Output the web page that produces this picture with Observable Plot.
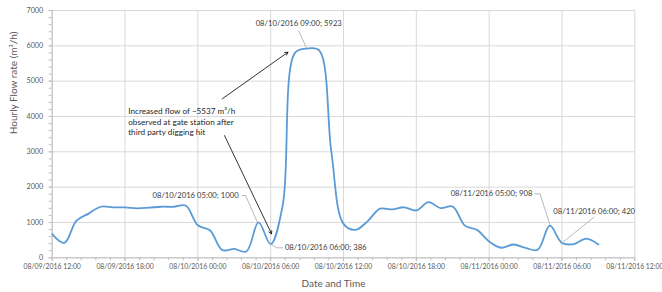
<!DOCTYPE html>
<html><head><meta charset="utf-8">
<script src="https://cdn.jsdelivr.net/npm/d3@7"></script>
<script src="https://cdn.jsdelivr.net/npm/@observablehq/plot@0.6"></script>
<style>
html,body{margin:0;padding:0;background:#fff;}
svg{display:block;}
</style></head><body><div id="chart"></div>
<script>
// ---- data ----
const startTime = "08/09/2016 12:00";
const endTime = "08/11/2016 12:00";
// hourly flow rate (m³/h) from 08/09/2016 12:00 to 08/11/2016 09:00
const flow = [670, 420, 1050, 1250, 1445, 1430, 1425, 1400, 1420, 1445, 1445, 1480,
  920, 780, 220, 250, 180, 1000, 386, 1500, 5800, 5923, 5870, 3000,
  960, 790, 1040, 1390, 1370, 1430, 1340, 1575, 1405, 1450, 910, 790,
  460, 285, 376, 282, 226, 908, 420, 390, 545, 378];
const xTickLabels = ["08/09/2016 12:00", "08/09/2016 18:00", "08/10/2016 00:00", "08/10/2016 06:00",
  "08/10/2016 12:00", "08/10/2016 18:00", "08/11/2016 00:00", "08/11/2016 06:00", "08/11/2016 12:00"];
const yTicks = [0, 1000, 2000, 3000, 4000, 5000, 6000, 7000];
const yTitle = "Hourly Flow rate (m³/h)";
const xTitle = "Date and Time";

// data labels (position in hours after start, value)
const pointLabels = ["08/10/2016 05:00; 1000", "08/10/2016 06:00; 386", "08/10/2016 09:00; 5923",
  "08/11/2016 05:00; 908", "08/11/2016 06:00; 420"];
const pointLabelHours = [15.36, 19.17, 20.31, 39.56, 41.29];
const pointLabelValues = [1763, 283, 6623, 1811, 1319];
const pointLabelAnchors = ["end", "start", "middle", "end", "start"];

// leader lines of data labels
const leaderIds = [0, 0, 0, 1, 1, 1, 2, 2, 3, 3, 3, 4, 4];
const leaderHours = [15.66, 15.93, 16.9, 18.0, 18.5, 19.0, 20.32, 20.93, 39.75, 40.19, 41.0, 44.64, 42.08];
const leaderValues = [1763, 1763, 1010, 396, 283, 283, 6413, 5961, 1811, 1811, 942, 1149, 442];

// callout
const calloutText = ["Increased flow of ~5537 m³/h", "observed at gate station after", "third party digging hit"];
const calloutHour = 6.26;
const calloutValue = 3866;
const arrowFromHours = [14.01, 14.2];
const arrowFromValues = [4500, 3458];
const arrowToHours = [19.42, 18.07];
const arrowToValues = [5819, 679];

// ---- build ----
const parse = d3.utcParse("%m/%d/%Y %H:%M");
const fmt = d3.utcFormat("%m/%d/%Y %H:%M");
const t0 = parse(startTime);
const t1 = parse(endTime);
const at = h => new Date(+t0 + h * 3600e3);
const series = flow.map((v, i) => ({time: d3.utcHour.offset(t0, i), flow: v}));
const xTicks = xTickLabels.map(parse);
const xMinor = d3.range(0, 41).map(i => at(i * 1.2));
const yMinor = d3.range(0, 7001, 200);
const labels = pointLabels.map((t, i) => ({text: t, time: at(pointLabelHours[i]), value: pointLabelValues[i], anchor: pointLabelAnchors[i]}));
const leaders = leaderIds.map((id, i) => ({id, time: at(leaderHours[i]), value: leaderValues[i]}));
const arrows = arrowFromHours.map((h, i) => ({x1: at(h), y1: arrowFromValues[i], x2: at(arrowToHours[i]), y2: arrowToValues[i]}));

const labelStyle = {fontSize: 7.7, fill: "#404040", lineAnchor: "middle"};

const chart = Plot.plot({
  width: 662, height: 292,
  marginLeft: 51.7, marginRight: 27.7, marginTop: 10, marginBottom: 34.7,
  style: {fontFamily: "Lato, 'Open Sans', sans-serif", background: "white", overflow: "visible"},
  x: {type: "utc", domain: [t0, t1]},
  y: {domain: [0, 7000]},
  marks: [
    Plot.gridX(xTicks, {stroke: "#d9d9d9", strokeOpacity: 1, strokeWidth: 1}),
    Plot.gridY(yTicks, {stroke: "#d9d9d9", strokeOpacity: 1, strokeWidth: 1}),
    Plot.ruleY([0], {stroke: "#bfbfbf", strokeWidth: 1}),
    Plot.ruleX([t0], {stroke: "#bfbfbf", strokeWidth: 1}),
    Plot.axisX(xMinor, {tickSize: 3, tickFormat: () => "", stroke: "#bfbfbf", label: null}),
    Plot.axisX(xTicks, {tickSize: 4, tickPadding: 2.5, tickFormat: fmt, fontSize: 6.85, fill: "#595959", stroke: "#bfbfbf", label: null}),
    Plot.axisY(yMinor, {tickSize: 3, tickFormat: () => "", stroke: "#bfbfbf", label: null}),
    Plot.axisY(yTicks, {tickSize: 3, tickPadding: 6, tickFormat: d => String(d), fontSize: 7.2, fill: "#595959", stroke: "#bfbfbf", label: null}),
    Plot.line(series, {x: "time", y: "flow", stroke: "#5b9bd5", strokeWidth: 1.8, curve: "catmull-rom"}),
    Plot.line(leaders, {x: "time", y: "value", z: "id", stroke: "#a6a6a6", strokeWidth: 0.8}),
    Plot.text(labels, {filter: d => d.anchor === "end", x: "time", y: "value", text: "text", textAnchor: "end", ...labelStyle}),
    Plot.text(labels, {filter: d => d.anchor === "start", x: "time", y: "value", text: "text", textAnchor: "start", ...labelStyle}),
    Plot.text(labels, {filter: d => d.anchor === "middle", x: "time", y: "value", text: "text", textAnchor: "middle", ...labelStyle}),
    Plot.arrow(arrows, {x1: "x1", y1: "y1", x2: "x2", y2: "y2", stroke: "#000", strokeWidth: 0.8, headLength: 6}),
    Plot.text([calloutText.join("\n")], {x: () => at(calloutHour), y: () => calloutValue, text: d => d, textAnchor: "start", lineAnchor: "middle", lineHeight: 1.28, fontSize: 8.2, fill: "#262626"}),
    Plot.text([yTitle], {frameAnchor: "left", rotate: -90, dx: -38.7, text: d => d, fontSize: 10, fill: "#595959"}),
    Plot.text([xTitle], {frameAnchor: "bottom", dy: 28.7, dx: -10, text: d => d, fontSize: 10, fill: "#595959"})
  ]
});
document.getElementById("chart").appendChild(chart);
</script>
</body></html>
